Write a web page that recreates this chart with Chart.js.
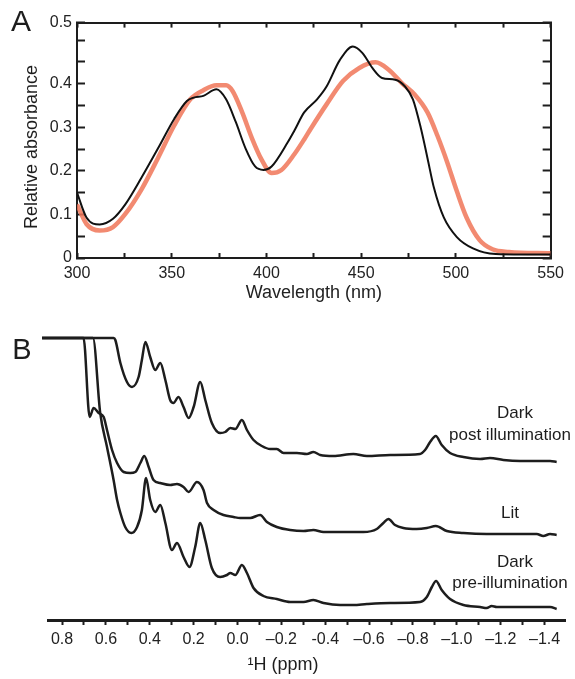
<!DOCTYPE html>
<html>
<head>
<meta charset="utf-8">
<script src="https://cdn.jsdelivr.net/npm/chart.js@4"></script>
<style>
  html, body { margin: 0; padding: 0; background: #fff; }
  #wrap { position: relative; width: 575px; height: 679px; }
  #absChart { position: absolute; left: 0; top: 0; }
  #nmrChart { position: absolute; left: 0; top: 300px; }
</style>
</head>
<body>
<div id="wrap">
  <canvas id="absChart" width="575" height="310" style="width:575px;height:310px"></canvas>
  <canvas id="nmrChart" width="575" height="379" style="width:575px;height:379px"></canvas>
</div>
<script>
// ---- panel A: absorbance spectra ----
const darkWl = [300, 305, 312, 319, 325.5, 334, 342.7, 351.3, 358, 361.6, 366.7, 373.6, 378.7, 383.8, 389,
  394, 398.4, 402.7, 411.3, 414.7, 419.9, 426.7, 431.8, 438.7, 445.6, 450.7, 455.9, 461, 467.9, 473,
  477.3, 481.6, 485, 488.4, 493.6, 500.5, 509, 521, 535, 550];
const darkAbs = [0.150, 0.093, 0.077, 0.090, 0.123, 0.184, 0.251, 0.319, 0.360, 0.368, 0.372, 0.387, 0.364, 0.312, 0.251,
  0.210, 0.202, 0.210, 0.266, 0.292, 0.334, 0.364, 0.394, 0.454, 0.485, 0.470, 0.436, 0.413, 0.409, 0.394,
  0.364, 0.296, 0.229, 0.161, 0.093, 0.048, 0.022, 0.009, 0.008, 0.008];

const litWl = [300, 305, 312, 319, 325.5, 334, 342.7, 351.3, 359.8, 366.7, 373.6, 378.7, 382.1, 387.2, 392.4,
  397.5, 402.7, 407.9, 414.7, 419.9, 423.3, 431.8, 440.4, 449, 457.6, 464.5, 471.3, 478.2, 485, 490.2,
  495.3, 500.5, 505.6, 512.5, 519.3, 528, 550];
const litAbs = [0.123, 0.078, 0.063, 0.071, 0.101, 0.157, 0.229, 0.304, 0.364, 0.385, 0.396, 0.396, 0.383, 0.334, 0.274,
  0.225, 0.195, 0.202, 0.238, 0.272, 0.296, 0.353, 0.406, 0.436, 0.449, 0.432, 0.402, 0.375, 0.334, 0.281,
  0.221, 0.153, 0.093, 0.041, 0.020, 0.014, 0.011];

const wlTicks = [300, 325, 350, 375, 400, 425, 450, 475, 500, 525, 550];
const wlTickLabels = ['300', '', '350', '', '400', '', '450', '', '500', '', '550'];
const absTicks = [0, 0.05, 0.1, 0.15, 0.2, 0.25, 0.3, 0.35, 0.4, 0.45, 0.5, 0.54];
const absTickLabels = ['0', '', '0.1', '', '0.2', '', '0.3', '', '0.4', '', '', '0.5'];

// ---- panel B: 1H NMR, high-field region ----
const postPpm = [0.891, 0.565, 0.557, 0.534, 0.504, 0.481, 0.451, 0.436, 0.420, 0.398, 0.375, 0.352, 0.329, 0.307, 0.292,
  0.269, 0.246, 0.223, 0.200, 0.170, 0.147, 0.117, 0.079, 0.056, 0.033, 0.010, -0.020, -0.043, -0.073, -0.111,
  -0.149, -0.179, -0.210, -0.271, -0.316, -0.346, -0.377, -0.437, -0.528, -0.590, -0.696, -0.832, -0.855, -0.878, -0.904,
  -0.931, -0.969, -1.030, -1.106, -1.151, -1.212, -1.288, -1.364, -1.425, -1.455];
const postInt = [282, 282, 280, 257, 238, 233, 243, 260, 278, 263, 250, 257, 240, 220, 217,
  223, 213, 202, 213, 238, 220, 197, 187, 188, 192, 191, 200, 190, 180, 174,
  171, 171, 167, 167, 166, 168, 165, 164, 166, 164, 165, 166, 170, 178, 184,
  175, 167, 163, 161, 162, 160, 159, 159, 159, 158];

const litPpm = [0.891, 0.702, 0.674, 0.656, 0.633, 0.610, 0.595, 0.572, 0.549, 0.519, 0.489, 0.466, 0.443, 0.425, 0.405,
  0.383, 0.352, 0.307, 0.276, 0.246, 0.223, 0.185, 0.155, 0.139, 0.109, 0.064, 0.018, -0.012, -0.058, -0.103,
  -0.134, -0.179, -0.240, -0.301, -0.346, -0.392, -0.498, -0.574, -0.635, -0.665, -0.688, -0.718, -0.756, -0.817, -0.863,
  -0.904, -0.954, -1.030, -1.136, -1.212, -1.288, -1.364, -1.394, -1.425, -1.455];
const litInt = [282, 282, 203, 212, 207, 203, 190, 170, 157, 148, 147, 148, 157, 164, 153,
  140, 137, 135, 136, 133, 128, 138, 130, 117, 110, 105, 103, 102, 102, 105,
  98, 93, 90, 89, 90, 88, 88, 88, 91, 97, 101, 95, 92, 91, 92,
  94, 89, 87, 86, 86, 86, 86, 84, 86, 85];

const prePpm = [0.891, 0.659, 0.626, 0.595, 0.565, 0.549, 0.534, 0.512, 0.484, 0.458, 0.436, 0.417, 0.398, 0.375, 0.352,
  0.329, 0.299, 0.276, 0.246, 0.219, 0.193, 0.170, 0.147, 0.117, 0.079, 0.048, 0.033, 0.010, -0.020, -0.043,
  -0.073, -0.118, -0.179, -0.240, -0.301, -0.346, -0.392, -0.468, -0.528, -0.590, -0.696, -0.832, -0.863, -0.886, -0.905,
  -0.931, -0.969, -1.030, -1.106, -1.136, -1.159, -1.182, -1.288, -1.364, -1.425, -1.455];
const preInt = [282, 282, 207, 173, 140, 120, 107, 93, 87, 93, 110, 142, 120, 108, 115,
  97, 70, 77, 63, 53, 73, 97, 80, 52, 43, 45, 47, 45, 55, 47,
  32, 24, 21, 18, 18, 20, 17, 15, 15, 16, 17, 18, 23, 33, 39,
  30, 21, 15, 13, 12, 14, 13, 13, 13, 13, 11];

const ppmTicks = [0.8, 0.7, 0.6, 0.5, 0.4, 0.3, 0.2, 0.1, 0, -0.1, -0.2, -0.3, -0.4, -0.5, -0.6, -0.7,
  -0.8, -0.9, -1.0, -1.1, -1.2, -1.3, -1.4];
const ppmTickLabels = ['0.8', '', '0.6', '', '0.4', '', '0.2', '', '0.0', '', '\u20130.2', '', '-0.4', '',
  '\u20130.6', '', '\u20130.8', '', '\u20131.0', '', '\u20131.2', '', '\u20131.4'];

const traceNames = ['Dark post illumination', 'Lit', 'Dark pre-illumination'];

// ---- helpers ----
Chart.defaults.font.family = "'Liberation Sans', Arial, Helvetica, sans-serif";
Chart.defaults.color = '#222';
const ink = '#1d1d1d';

const toPoints = (xs, ys) => xs.map((x, i) => ({ x: x, y: ys[i] }));
const useTicks = values => scale => { scale.ticks = values.map(v => ({ value: v })); };
const fixSize = (prop, px) => scale => { scale[prop] = px; };

function makeTextPlugin(items) {
  return {
    id: 'panelText',
    afterDraw(chart) {
      const ctx = chart.ctx;
      items.forEach(t => {
        let x = t.x, y = t.y;
        if (t.at) {
          x = chart.scales.x.getPixelForValue(t.at[0]);
          y = chart.scales.y.getPixelForValue(t.at[1]);
        }
        ctx.save();
        ctx.font = t.font;
        ctx.fillStyle = ink;
        ctx.textAlign = 'center';
        ctx.textBaseline = 'middle';
        ctx.translate(x, y);
        if (t.rotate) ctx.rotate(t.rotate);
        ctx.fillText(t.text, 0, 0);
        ctx.restore();
      });
    }
  };
}

const frameGrid = len => ({ drawOnChartArea: false, tickLength: -len, tickWidth: 2, tickColor: ink });
const frameBorder = { color: ink, width: 2 };
const fontFam = "'Liberation Sans', Arial, sans-serif";

// ---- chart A ----
new Chart(document.getElementById('absChart'), {
  type: 'line',
  data: {
    datasets: [{
      label: 'black',
      data: toPoints(darkWl, darkAbs),
      borderColor: '#111',
      borderWidth: 2,
      pointRadius: 0,
      cubicInterpolationMode: 'monotone'
    }, {
      label: 'orange',
      data: toPoints(litWl, litAbs),
      borderColor: 'rgba(240, 118, 88, 0.85)',
      borderWidth: 4.5,
      pointRadius: 0,
      cubicInterpolationMode: 'monotone'
    }]
  },
  options: {
    responsive: false,
    animation: false,
    layout: { padding: 0, autoPadding: false },
    plugins: { legend: { display: false }, tooltip: { enabled: false } },
    scales: {
      x: {
        type: 'linear', position: 'bottom', min: 300, max: 550,
        afterBuildTicks: useTicks(wlTicks), afterFit: fixSize('height', 52),
        grid: frameGrid(5), border: frameBorder,
        ticks: { callback: (v, i) => wlTickLabels[i], autoSkip: false, maxRotation: 0, padding: 11, font: { size: 16 } },
        title: { display: true, text: 'Wavelength (nm)', font: { size: 18 }, padding: { top: 0, bottom: 6 } }
      },
      xTop: {
        type: 'linear', position: 'top', min: 300, max: 550,
        afterBuildTicks: useTicks(wlTicks), afterFit: fixSize('height', 19),
        grid: frameGrid(5), border: frameBorder, ticks: { display: false }
      },
      y: {
        type: 'linear', position: 'left', min: 0, max: 0.54,
        afterBuildTicks: useTicks(absTicks), afterFit: fixSize('width', 77),
        grid: frameGrid(8), border: frameBorder,
        ticks: { callback: (v, i) => absTickLabels[i], autoSkip: false, padding: 13, font: { size: 16 } }
      },
      yRight: {
        type: 'linear', position: 'right', min: 0, max: 0.54,
        afterBuildTicks: useTicks(absTicks), afterFit: fixSize('width', 12),
        grid: frameGrid(8), border: frameBorder, ticks: { display: false }
      }
    }
  },
  plugins: [makeTextPlugin([
    { text: 'A', x: 21, y: 23, font: '30px ' + fontFam },
    { text: 'Relative absorbance', x: 32, y: 147, rotate: -Math.PI / 2, font: '18px ' + fontFam }
  ])]
});

// ---- chart B ----
const nmrLine = (name, xs, ys) => ({
  label: name,
  data: toPoints(xs, ys),
  borderColor: ink,
  borderWidth: 2.5,
  pointRadius: 0,
  clip: false,
  cubicInterpolationMode: 'monotone'
});

new Chart(document.getElementById('nmrChart'), {
  type: 'line',
  data: {
    datasets: [
      nmrLine(traceNames[0], postPpm, postInt),
      nmrLine(traceNames[1], litPpm, litInt),
      nmrLine(traceNames[2], prePpm, preInt)
    ]
  },
  options: {
    responsive: false,
    animation: false,
    layout: { padding: { top: 38, left: 48, right: 10, bottom: 0 }, autoPadding: false },
    plugins: { legend: { display: false }, tooltip: { enabled: false } },
    scales: {
      x: {
        type: 'linear', reverse: true, min: -1.493, max: 0.864,
        afterBuildTicks: useTicks(ppmTicks), afterFit: fixSize('height', 59),
        grid: { drawOnChartArea: false, tickLength: 5, tickWidth: 2, tickColor: ink },
        border: { color: ink, width: 3 },
        ticks: { callback: (v, i) => ppmTickLabels[i], autoSkip: false, maxRotation: 0, padding: 5, font: { size: 16 } }
      },
      y: { display: false, min: 0, max: 282 }
    }
  },
  plugins: [makeTextPlugin([
    { text: 'B', x: 22, y: 51, font: '29px ' + fontFam },
    { text: '\u00B9H (ppm)', x: 283, y: 365, font: '18px ' + fontFam },
    { text: 'Dark', at: [-1.265, 207], font: '17px ' + fontFam },
    { text: 'post illumination', at: [-1.242, 185], font: '17px ' + fontFam },
    { text: 'Lit', at: [-1.242, 107], font: '17px ' + fontFam },
    { text: 'Dark', at: [-1.265, 58], font: '17px ' + fontFam },
    { text: 'pre-illumination', at: [-1.242, 37], font: '17px ' + fontFam }
  ])]
});
</script>
</body>
</html>
